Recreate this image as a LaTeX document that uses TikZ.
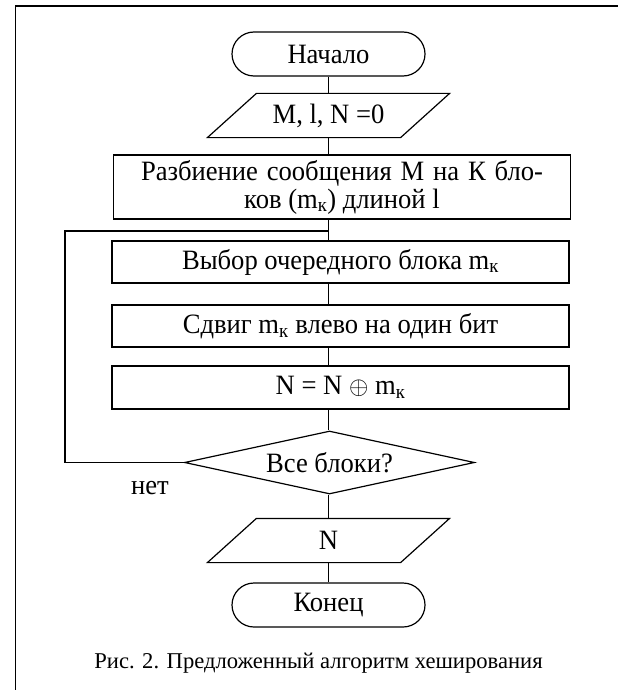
\documentclass[tikz,border=0pt]{standalone}
\usepackage{fontspec}
\setmainfont{Liberation Serif}
\newfontfamily\nodefont[FakeStretch=0.95]{Liberation Serif}
\usetikzlibrary{calc,shapes.geometric}
\newcommand\parashape[2]{%
  \draw ($(#1.north west)+(#2,0)$) -- ($(#1.north east)+(#2,0)$) --
        ($(#1.south east)+(-#2,0)$) -- ($(#1.south west)+(-#2,0)$) -- cycle;}
\begin{document}
\begin{tikzpicture}[x=1pt,y=-1pt,line width=1.2pt,
  every node/.style={font=\nodefont\fontsize{28}{28}\selectfont},
  proc/.style={draw,rectangle,minimum width=457pt,minimum height=42pt,inner sep=0pt,align=center},
  term/.style={draw,rectangle,rounded corners=22pt,minimum width=193pt,minimum height=44pt,inner sep=0pt},
  iobox/.style={rectangle,minimum width=192pt,minimum height=43pt,inner sep=0pt},
  cond/.style={draw,diamond,minimum width=290pt,minimum height=63pt,inner sep=0pt,aspect=4.6},
  capt/.style={font=\rmfamily\fontsize{22.6}{27}\selectfont,anchor=base},
  frameline/.style={line width=1.3pt}]
\useasboundingbox (0,0) rectangle (618,690);
\draw[frameline] (15.5,690) -- (15.5,6) -- (618,6);

\node[term] (start) at (328.5,54) {Начало};
\node[iobox] (in) at (328.5,115.5) {M, l, N =0};
\parashape{in}{24.5}
\node[proc,minimum height=64pt] (split) at (342,187) {\makebox[402pt][s]{Разбиение сообщения М на К бло-}\\ков (m\textsubscript{к}) длиной l};
\node[proc] (choose) at (340.5,262) {Выбор очередного блока m\textsubscript{к}};
\node[proc] (shift) at (340.5,326) {Сдвиг m\textsubscript{к} влево на один бит};
\node[proc,minimum height=43pt] (xor) at (340.5,387.5) {N = N $\oplus$ m\textsubscript{к}};
\node[cond] (check) at (329.5,462.5) {Все блоки?};
\node[iobox] (out) at (328.5,540.5) {N};
\parashape{out}{24.5}
\node[term] (stop) at (328.5,605) {Конец};
\node[anchor=base] (no) at (150,494) {нет};
\node[capt] (caption) at (318.5,668) {Рис. 2. Предложенный алгоритм хеширования};

\coordinate (loopj) at (328.5,231);
\coordinate (loopl) at (65,231);

\draw (start.south) -- (in.north);
\draw (in.south) -- (split.north -| in);
\draw (split.south -| in) -- (choose.north -| in);
\draw (choose.south -| in) -- (shift.north -| in);
\draw (shift.south -| in) -- (xor.north -| in);
\draw (xor.south -| in) -- (check.north -| in);
\draw (check.south -| in) -- (out.north);
\draw (out.south) -- (stop.north);
\draw (check.west) -| (loopl) -- (loopj);
\end{tikzpicture}
\end{document}
